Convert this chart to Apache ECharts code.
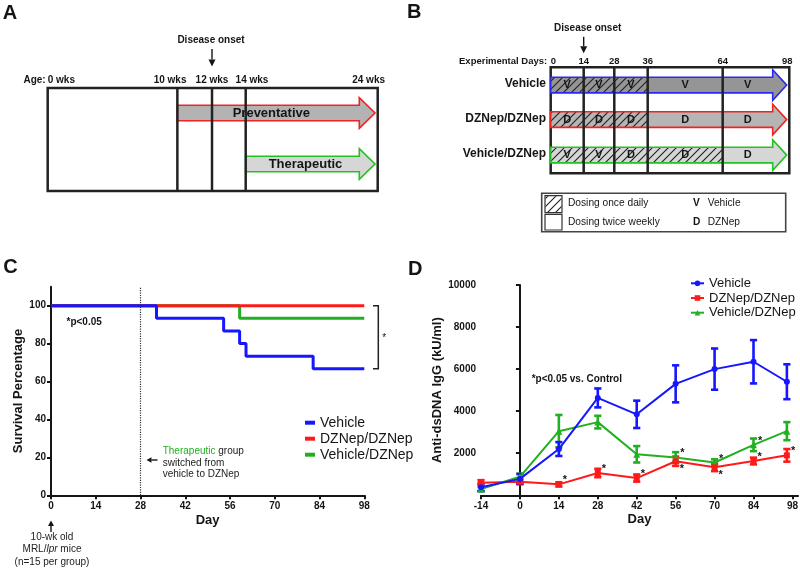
<!DOCTYPE html>
<html><head><meta charset="utf-8">
<script src="https://cdn.jsdelivr.net/npm/echarts@6/dist/echarts.min.js"></script>
<style>html,body{margin:0;padding:0;background:#fff}#c{width:800px;height:568px}</style>
</head><body><div id="c"></div>
<script>
// ================= DATA =================
// Panel A: study design by age
const ageWeeks = [0, 10, 12, 14, 24];
const ageLabels = ['0 wks', '10 wks', '12 wks', '14 wks', '24 wks'];
const onsetWeek = 12;
const armNames = ['Preventative', 'Therapeutic'];
const armStartWeeks = [10, 14];

// Panel B: dosing schedule
const expDays = [0, 14, 28, 36, 64, 98];
const onsetDay = 14;
const groupNames = ['Vehicle', 'DZNep/DZNep', 'Vehicle/DZNep'];
const dailyDosingUntil = [36, 36, 64];
const segmentDrugs = [
  ['V', 'V', 'V', 'V', 'V'],
  ['D', 'D', 'D', 'D', 'D'],
  ['V', 'V', 'D', 'D', 'D']
];

// Panel C: survival (%)
const survVehicle = [[0, 100], [33, 93.3], [54, 86.7], [59, 80], [61, 73.3], [82, 66.7], [98, 66.7]];
const survDZNep = [[0, 100], [98, 100]];
const survVehDZNep = [[0, 100], [59, 93.3], [98, 93.3]];
const survDayTicks = [0, 14, 28, 42, 56, 70, 84, 98];
const survPctTicks = [0, 20, 40, 60, 80, 100];
const switchDay = 28;

// Panel D: anti-dsDNA IgG (kU/ml), mean and SEM
const igDays = [-14, 0, 14, 28, 42, 56, 70, 84, 96];
const igVehicle = [380, 780, 2200, 4630, 3850, 5300, 6000, 6350, 5400];
const igVehicleSem = [180, 230, 330, 450, 650, 880, 980, 1030, 830];
const igDZNep = [600, 650, 520, 1060, 820, 1620, 1330, 1630, 1900];
const igDZNepSem = [120, 130, 100, 200, 170, 220, 180, 160, 300];
const igVehDZNep = [300, 880, 3050, 3480, 1950, 1800, 1560, 2400, 3050];
const igVehDZNepSem = [100, 150, 770, 300, 390, 250, 150, 300, 430];
// significance marks: '' none, 't' star above, 'b' star below
const igDZNepStar = ['', '', 't', 't', 't', 'b', 'b', 't', 't'];
const igVehDZNepStar = ['', '', '', '', '', 't', 't', 't', ''];
const igVehicleStar = ['', '', '', '', '', '', '', '', ''];
const igDayTicks = [-14, 0, 14, 28, 42, 56, 70, 84, 98];
const igValueTicks = [2000, 4000, 6000, 8000, 10000];

// ================= LAYOUT / STYLE =================
const FONT = '"Liberation Sans", Arial, Helvetica, sans-serif';
const BLUE = '#1616ff', RED = '#ff1a1a', GREEN = '#22b022';
const DBLUE = '#2a2af2', DRED = '#f02222', DGREEN = '#22c222';
const INK = '#151515';
const L = {
  aDisp: [0, 9.43, 11.95, 14.4, 24],           // schematic (non-proportional) positions
  bDisp: [0, 13.55, 26.12, 39.84, 70.64, 98],
  aRowY: [25, 76], aFill: ['#b3b3b3', '#d6d6d6'], aStroke: [DRED, DGREEN],
  bRowY: [17.8, 52.3, 87.8], bFill: ['#959595', '#b5b5b5', '#d6d6d6'], bStroke: [DBLUE, DRED, DGREEN]
};

function warp(v, from, to) {
  for (let i = 1; i < from.length; i++) {
    if (v <= from[i]) {
      const t = (v - from[i - 1]) / (from[i] - from[i - 1]);
      return to[i - 1] + t * (to[i] - to[i - 1]);
    }
  }
  return to[to.length - 1];
}
function makeHatch(bg) {
  const s = 8;
  const c = document.createElement('canvas');
  c.width = s; c.height = s;
  const g = c.getContext('2d');
  if (bg) { g.fillStyle = bg; g.fillRect(0, 0, s, s); }
  g.strokeStyle = '#202020'; g.lineWidth = 1.1;
  g.beginPath();
  g.moveTo(0, s); g.lineTo(s, 0);
  g.moveTo(-1, 1); g.lineTo(1, -1);
  g.moveTo(s - 1, s + 1); g.lineTo(s + 1, s - 1);
  g.stroke();
  return c;
}
const hatchPattern = { image: makeHatch(null), repeat: 'repeat' };

function arrowPts(x0, tip, cy, bh, hh, hl) {
  const hb = tip - hl;
  return [[x0, cy - bh], [hb, cy - bh], [hb, cy - hh], [tip, cy], [hb, cy + hh], [hb, cy + bh], [x0, cy + bh]];
}
function arrowEls(x1, y1, x2, y2, head, w, lw) {
  const dx = x2 - x1, dy = y2 - y1, len = Math.hypot(dx, dy), ux = dx / len, uy = dy / len;
  const bx = x2 - ux * head, by = y2 - uy * head;
  return [
    { type: 'line', shape: { x1: x1, y1: y1, x2: bx, y2: by }, style: { stroke: INK, lineWidth: lw || 1.3 } },
    { type: 'polygon', shape: { points: [[x2, y2], [bx - uy * w / 2, by + ux * w / 2], [bx + uy * w / 2, by - ux * w / 2]] }, style: { fill: INK } }
  ];
}
function txt(x, y, text, o) {
  return { type: 'text', x: x, y: y, style: Object.assign({ text: text, fill: INK, fontFamily: FONT, fontSize: 10, fontWeight: 'normal', align: 'left', verticalAlign: 'middle' }, o || {}) };
}

// ---------- Panel A renderer ----------
function renderA(params, api) {
  const cs = params.coordSys;
  const X = w => api.coord([warp(w, ageWeeks, L.aDisp), 0])[0];
  const top = cs.y, bot = cs.y + cs.height;
  const left = X(ageWeeks[0]), right = X(ageWeeks[ageWeeks.length - 1]);
  const kids = [];
  kids.push({ type: 'rect', shape: { x: left, y: top, width: right - left, height: bot - top }, style: { fill: '#fff', stroke: '#222', lineWidth: 2.5 } });
  armNames.forEach((nm, i) => {
    const cy = top + L.aRowY[i], x0 = X(armStartWeeks[i]), tip = right - 2.7, hl = 15.7;
    kids.push({ type: 'polygon', shape: { points: arrowPts(x0, tip, cy, 7.8, 15.3, hl) }, style: { fill: L.aFill[i], stroke: L.aStroke[i], lineWidth: 1.6 } });
    kids.push(txt((x0 + tip - hl) / 2 + 3, cy, nm, { fontSize: 13, fontWeight: 'bold', align: 'center' }));
  });
  for (let i = 1; i < ageWeeks.length - 1; i++) {
    const x = X(ageWeeks[i]);
    kids.push({ type: 'line', shape: { x1: x, y1: top, x2: x, y2: bot }, style: { stroke: '#222', lineWidth: 2.5 } });
  }
  const ly = top - 8;
  kids.push(txt(left - 2, ly, 'Age:', { fontWeight: 'bold', align: 'right' }));
  const dx = [0, -7.3, 0, 6.3, 7.3];
  ageLabels.forEach((lab, i) => {
    const x = X(ageWeeks[i]);
    const al = i === 0 ? 'left' : (i === ageLabels.length - 1 ? 'right' : 'center');
    kids.push(txt(x + dx[i], ly, lab, { fontWeight: 'bold', align: al }));
  });
  const ox = X(onsetWeek);
  kids.push(txt(ox - 1, top - 48, 'Disease onset', { fontWeight: 'bold', align: 'center' }));
  arrowEls(ox, top - 39, ox, top - 21.5, 7, 7, 1.4).forEach(e => kids.push(e));
  return { type: 'group', children: kids };
}

// ---------- Panel B renderer ----------
function renderB(params, api) {
  const cs = params.coordSys;
  const X = d => api.coord([warp(d, expDays, L.bDisp), 0])[0];
  const top = cs.y, bot = cs.y + cs.height;
  const left = X(expDays[0]), right = X(expDays[expDays.length - 1]);
  const kids = [];
  kids.push({ type: 'rect', shape: { x: left, y: top, width: right - left, height: bot - top }, style: { fill: '#fff', stroke: '#222', lineWidth: 2.5 } });
  groupNames.forEach((nm, i) => {
    const cy = top + L.bRowY[i], x0 = left, tip = right - 2.6, hl = 14, bh = 7.8, hh = 15.3;
    const pts = arrowPts(x0, tip, cy, bh, hh, hl);
    kids.push({ type: 'polygon', shape: { points: pts }, style: { fill: L.bFill[i], stroke: null } });
    kids.push({ type: 'rect', shape: { x: x0, y: cy - bh, width: X(dailyDosingUntil[i]) - x0, height: 2 * bh }, style: { fill: hatchPattern } });
    kids.push({ type: 'polygon', shape: { points: pts }, style: { fill: null, stroke: L.bStroke[i], lineWidth: 1.6 } });
    segmentDrugs[i].forEach((letter, s) => {
      const xa = X(expDays[s]), xb = Math.min(X(expDays[s + 1]), tip - hl);
      kids.push(txt((xa + xb) / 2, cy, letter, { fontSize: 11, fontWeight: 'bold', align: 'center' }));
    });
    kids.push(txt(left - 4.7, cy - 1, nm, { fontSize: 12, fontWeight: 'bold', align: 'right' }));
  });
  for (let i = 1; i < expDays.length - 1; i++) {
    const x = X(expDays[i]);
    kids.push({ type: 'line', shape: { x1: x, y1: top, x2: x, y2: bot }, style: { stroke: '#222', lineWidth: 2.5 } });
  }
  const ly = top - 5.5;
  kids.push(txt(left - 3.5, ly, 'Experimental Days:', { fontSize: 9.5, fontWeight: 'bold', align: 'right' }));
  expDays.forEach((d, i) => {
    const x = X(d);
    const al = i === 0 ? 'left' : 'center';
    kids.push(txt(i === expDays.length - 1 ? x - 2 : x, ly, String(d), { fontSize: 9.5, fontWeight: 'bold', align: al }));
  });
  const ox = X(onsetDay);
  kids.push(txt(ox + 4, top - 39.3, 'Disease onset', { fontWeight: 'bold', align: 'center' }));
  arrowEls(ox, top - 30.5, ox, top - 14, 7, 7, 1.4).forEach(e => kids.push(e));
  return { type: 'group', children: kids };
}

// ---------- Panel C bracket ----------
function renderBracket(params, api) {
  const p1 = api.coord([api.value(0), api.value(1)]);
  const p2 = api.coord([api.value(0), api.value(2)]);
  const x = p1[0] + 14, cap = 5.3;
  return { type: 'group', children: [
    { type: 'polyline', shape: { points: [[x - cap, p1[1]], [x, p1[1]], [x, p2[1]], [x - cap, p2[1]]] }, style: { stroke: '#222', lineWidth: 1.5, fill: null } },
    txt(x + 6, (p1[1] + p2[1]) / 2 + 1, '*', { align: 'center' })
  ] };
}

// ---------- Panel D helpers ----------
function igData(mean, star) {
  return igDays.map((d, i) => {
    const it = { value: [d, mean[i]] };
    if (star[i]) it.label = { show: true, formatter: '*', position: 'right', distance: 1, offset: [0, star[i] === 't' ? -4 : 8] };
    return it;
  });
}
function errSeries(name, mean, sem, color) {
  return {
    type: 'custom', name: name + ' SEM', xAxisIndex: 3, yAxisIndex: 3, z: 3,
    encode: { x: 0, y: [1, 2] },
    data: igDays.map((d, i) => [d, mean[i] - sem[i], mean[i] + sem[i]]),
    renderItem: function (params, api) {
      const lo = api.coord([api.value(0), api.value(1)]), hi = api.coord([api.value(0), api.value(2)]);
      const w = 3.6, st = { stroke: color, lineWidth: 2.6 };
      return { type: 'group', children: [
        { type: 'line', shape: { x1: lo[0], y1: lo[1], x2: hi[0], y2: hi[1] }, style: st },
        { type: 'line', shape: { x1: lo[0] - w, y1: lo[1], x2: lo[0] + w, y2: lo[1] }, style: st },
        { type: 'line', shape: { x1: hi[0] - w, y1: hi[1], x2: hi[0] + w, y2: hi[1] }, style: st }
      ] };
    }
  };
}
function igLine(name, mean, star, color, symbol, size) {
  return {
    type: 'line', name: name, xAxisIndex: 3, yAxisIndex: 3, z: 4,
    data: igData(mean, star), symbol: symbol, symbolSize: size, showSymbol: true,
    lineStyle: { color: color, width: 2 }, itemStyle: { color: color },
    label: { show: false, color: INK, fontFamily: FONT, fontSize: 11, fontWeight: 'bold' }
  };
}
function survLine(name, data, color, extra) {
  return Object.assign({
    type: 'line', name: name, xAxisIndex: 2, yAxisIndex: 2, step: 'end', symbol: 'none', showSymbol: false,
    data: data, lineStyle: { color: color, width: 3 }, itemStyle: { color: color }
  }, extra || {});
}

const axisBase = {
  axisLine: { show: true, onZero: true, lineStyle: { color: INK, width: 2 } },
  axisTick: { show: true, length: 4, lineStyle: { color: INK, width: 2 } },
  splitLine: { show: false },
  axisLabel: { color: INK, fontFamily: FONT, fontSize: 10, fontWeight: 'bold' },
  nameTextStyle: { color: INK, fontFamily: FONT, fontSize: 13, fontWeight: 'bold' }
};
function ax(o) {
  const a = echarts.util.merge(echarts.util.clone(axisBase), o, true);
  a.axisLabel.formatter = v => String(v);
  return a;
}

const chart = echarts.init(document.getElementById('c'), null, { renderer: 'canvas' });
chart.setOption({
  animation: false,
  backgroundColor: '#fff',
  textStyle: { fontFamily: FONT },
  grid: [
    { left: 47.7, top: 88, width: 330, height: 103, outerBoundsMode: 'none' },
    { left: 550.7, top: 67.3, width: 238.6, height: 106, outerBoundsMode: 'none' },
    { left: 51, top: 286.7, width: 313.3, height: 208.6, outerBoundsMode: 'none' },
    { left: 481, top: 285, width: 317, height: 210.3, outerBoundsMode: 'none' }
  ],
  xAxis: [
    { gridIndex: 0, type: 'value', min: 0, max: 24, show: false },
    { gridIndex: 1, type: 'value', min: 0, max: 98, show: false },
    ax({ gridIndex: 2, type: 'value', min: 0, max: 98, name: 'Day', nameLocation: 'middle', nameGap: 19,
      axisTick: { customValues: survDayTicks }, axisLabel: { customValues: survDayTicks, margin: 6 } }),
    ax({ gridIndex: 3, type: 'value', min: -14, max: 100, name: 'Day', nameLocation: 'middle', nameGap: 18,
      axisTick: { customValues: igDayTicks }, axisLabel: { customValues: igDayTicks, margin: 6 } })
  ],
  yAxis: [
    { gridIndex: 0, type: 'value', min: 0, max: 1, inverse: true, show: false },
    { gridIndex: 1, type: 'value', min: 0, max: 1, inverse: true, show: false },
    ax({ gridIndex: 2, type: 'value', min: 0, max: 110, name: 'Survival Percentage', nameLocation: 'middle', nameGap: 24.5,
      axisTick: { customValues: survPctTicks }, axisLabel: { customValues: survPctTicks, margin: 5 } }),
    ax({ gridIndex: 3, type: 'value', min: 0, max: 10000, name: 'Anti-dsDNA IgG (kU/ml)', nameLocation: 'middle', nameGap: 35,
      axisTick: { customValues: igValueTicks }, axisLabel: { customValues: igValueTicks, margin: 5 } })
  ],
  legend: [
    { orient: 'vertical', left: 305, top: 415.7, padding: 0, itemWidth: 10, itemHeight: 4, itemGap: 2, icon: 'rect', selectedMode: false,
      data: groupNames, textStyle: { color: INK, fontFamily: FONT, fontSize: 14 } },
    { orient: 'vertical', left: 690, top: 276.8, padding: 0, itemWidth: 13, itemHeight: 7, itemGap: 1.7, selectedMode: false,
      data: groupNames, textStyle: { color: INK, fontFamily: FONT, fontSize: 13 } }
  ],
  series: [
    // Panel D (first, so legend icons take line+marker styles)
    errSeries('Vehicle/DZNep', igVehDZNep, igVehDZNepSem, GREEN),
    igLine('Vehicle/DZNep', igVehDZNep, igVehDZNepStar, GREEN, 'triangle', 7),
    errSeries('DZNep/DZNep', igDZNep, igDZNepSem, RED),
    igLine('DZNep/DZNep', igDZNep, igDZNepStar, RED, 'rect', 6),
    errSeries('Vehicle', igVehicle, igVehicleSem, BLUE),
    igLine('Vehicle', igVehicle, igVehicleStar, BLUE, 'circle', 6),
    // Panel C
    survLine('Vehicle/DZNep', survVehDZNep, GREEN),
    survLine('DZNep/DZNep', survDZNep, RED),
    survLine('Vehicle', survVehicle, BLUE, {
      markLine: { silent: true, symbol: 'none', label: { show: false },
        lineStyle: { type: 'dotted', color: '#333', width: 1.2 }, data: [{ xAxis: switchDay }] }
    }),
    { type: 'custom', name: 'bracket', xAxisIndex: 2, yAxisIndex: 2, clip: false,
      data: [[survDayTicks[survDayTicks.length - 1], survDZNep[survDZNep.length - 1][1], survVehicle[survVehicle.length - 1][1]]],
      encode: { x: 0, y: [1, 2] }, renderItem: renderBracket },
    // Panels A and B (schematics)
    { type: 'custom', name: 'panelA', xAxisIndex: 0, yAxisIndex: 0, clip: false, data: [[0, 0]], renderItem: renderA, silent: true },
    { type: 'custom', name: 'panelB', xAxisIndex: 1, yAxisIndex: 1, clip: false, data: [[0, 0]], renderItem: renderB, silent: true }
  ],
  graphic: [
    txt(2.7, 13, 'A', { fontSize: 20, fontWeight: 'bold' }),
    txt(407, 12, 'B', { fontSize: 20, fontWeight: 'bold' }),
    txt(3.3, 267.5, 'C', { fontSize: 20, fontWeight: 'bold' }),
    txt(408, 269, 'D', { fontSize: 20, fontWeight: 'bold' }),
    // Panel B key
    { type: 'rect', shape: { x: 541.7, y: 193.3, width: 244, height: 38.4 }, style: { fill: '#fff', stroke: '#444', lineWidth: 1.6 } },
    { type: 'rect', shape: { x: 545, y: 195.7, width: 17, height: 17 }, style: { fill: '#fff', stroke: '#333', lineWidth: 1.2 } },
    { type: 'rect', shape: { x: 545.5, y: 196.2, width: 16, height: 16 }, style: { fill: hatchPattern } },
    { type: 'rect', shape: { x: 545, y: 214.3, width: 17, height: 15.7 }, style: { fill: '#fff', stroke: '#333', lineWidth: 1.2 } },
    txt(568, 203.5, 'Dosing once daily', { fontSize: 10.2 }),
    txt(568, 221.8, 'Dosing twice weekly', { fontSize: 10.2 }),
    txt(693, 203.5, 'V', { fontSize: 10.2, fontWeight: 'bold' }),
    txt(707.7, 203.5, 'Vehicle', { fontSize: 10.2 }),
    txt(693, 221.8, 'D', { fontSize: 10.2, fontWeight: 'bold' }),
    txt(707.7, 221.8, 'DZNep', { fontSize: 10.2 }),
    // Panel C annotations
    txt(66.5, 322.7, '*p<0.05', { fontWeight: 'bold' }),
    { type: 'text', x: 162.7, y: 445.5, style: { text: '{g|Therapeutic} group\nswitched from\nvehicle to DZNep', fill: '#222', fontFamily: FONT, fontSize: 10, lineHeight: 11.5, verticalAlign: 'top', align: 'left',
      rich: { g: { fill: GREEN, fontFamily: FONT, fontSize: 10, lineHeight: 11.5 } } } },
    ...arrowEls(157.5, 460, 146.5, 460, 5, 5.5, 1.4),
    ...arrowEls(51, 532, 51, 520.5, 5.5, 6, 1.4),
    { type: 'text', x: 52, y: 531.3, style: { text: '10-wk old\nMRL/{i|lpr} mice\n(n=15 per group)', fill: '#222', fontFamily: FONT, fontSize: 10, lineHeight: 12.2, verticalAlign: 'top', align: 'center',
      rich: { i: { fontStyle: 'italic', fill: '#222', fontFamily: FONT, fontSize: 10, lineHeight: 12.2 } } } },
    // Panel D annotation
    txt(531.7, 379.3, '*p<0.05 vs. Control', { fontWeight: 'bold' })
  ]
});
</script>
</body></html>
